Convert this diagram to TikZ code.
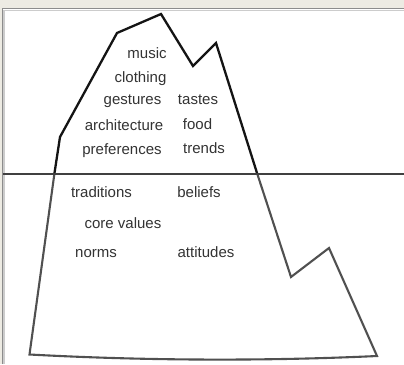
\documentclass[tikz,border=0pt]{standalone}
\usepackage{fontspec}
\setmainfont{Liberation Sans}
\definecolor{frame}{HTML}{EDEBE3}
\definecolor{ink}{HTML}{333333}
\definecolor{deep}{HTML}{505050}
\begin{document}
\begin{tikzpicture}[x=1pt,y=-1pt,
  word/.style={anchor=base,inner sep=0pt,text=ink,font=\fontsize{15}{18}\selectfont},
  tip/.style={draw=black!92,line width=2.3pt,line join=miter},
  mass/.style={draw=deep,line width=2.1pt,line join=miter},
  water/.style={draw=black!75,line width=2pt}]
  \useasboundingbox (0,0) rectangle (404,364);
  % window frame and white canvas
  \fill[frame] (0,0) rectangle (404,364);
  \fill[white] (3,9) rectangle (404,364);
  \draw[black!45,line width=1pt] (2.5,364) -- (2.5,8.5) -- (404,8.5);
  \draw[black!20,line width=1.5pt] (3.75,364) -- (3.75,10.25) -- (404,10.25);

  % iceberg outline vertices
  \coordinate (wl) at (54.5,173);
  \coordinate (wr) at (257,173);
  \coordinate (p1) at (60,137);
  \coordinate (p2) at (117,33);
  \coordinate (p3) at (161,14);
  \coordinate (p4) at (193,66);
  \coordinate (p5) at (216,43);
  \coordinate (b1) at (29.5,354.5);
  \coordinate (b2) at (377,356);
  \coordinate (b3) at (329,248);
  \coordinate (b4) at (291,277);

  % submerged part, with a slightly sagging base
  \draw[mass] (wl) -- (b1) .. controls (150,361) and (270,361) .. (b2)
    -- (b3) -- (b4) -- (wr);
  % visible tip
  \draw[tip] (wl) -- (p1) -- (p2) -- (p3) -- (p4) -- (p5) -- (wr);
  % waterline
  \coordinate (s1) at (3,173.5);
  \coordinate (s2) at (404,173.5);
  \draw[water] (s1) -- (s2);

  % above the surface
  \node[word] (music) at (147,58) {music};
  \node[word] (clothing) at (140.5,82) {clothing};
  \node[word] (gestures) at (132.5,104) {gestures};
  \node[word] (tastes) at (198,104) {tastes};
  \node[word] (architecture) at (124,130.5) {architecture};
  \node[word] (food) at (197.5,129) {food};
  \node[word] (preferences) at (122,154) {preferences};
  \node[word] (trends) at (204,153) {trends};

  % below the surface
  \node[word] (traditions) at (101.5,197) {traditions};
  \node[word] (beliefs) at (199,197) {beliefs};
  \node[word] (corevalues) at (123,228) {core values};
  \node[word] (norms) at (96,257) {norms};
  \node[word] (attitudes) at (206,257) {attitudes};
\end{tikzpicture}
\end{document}
